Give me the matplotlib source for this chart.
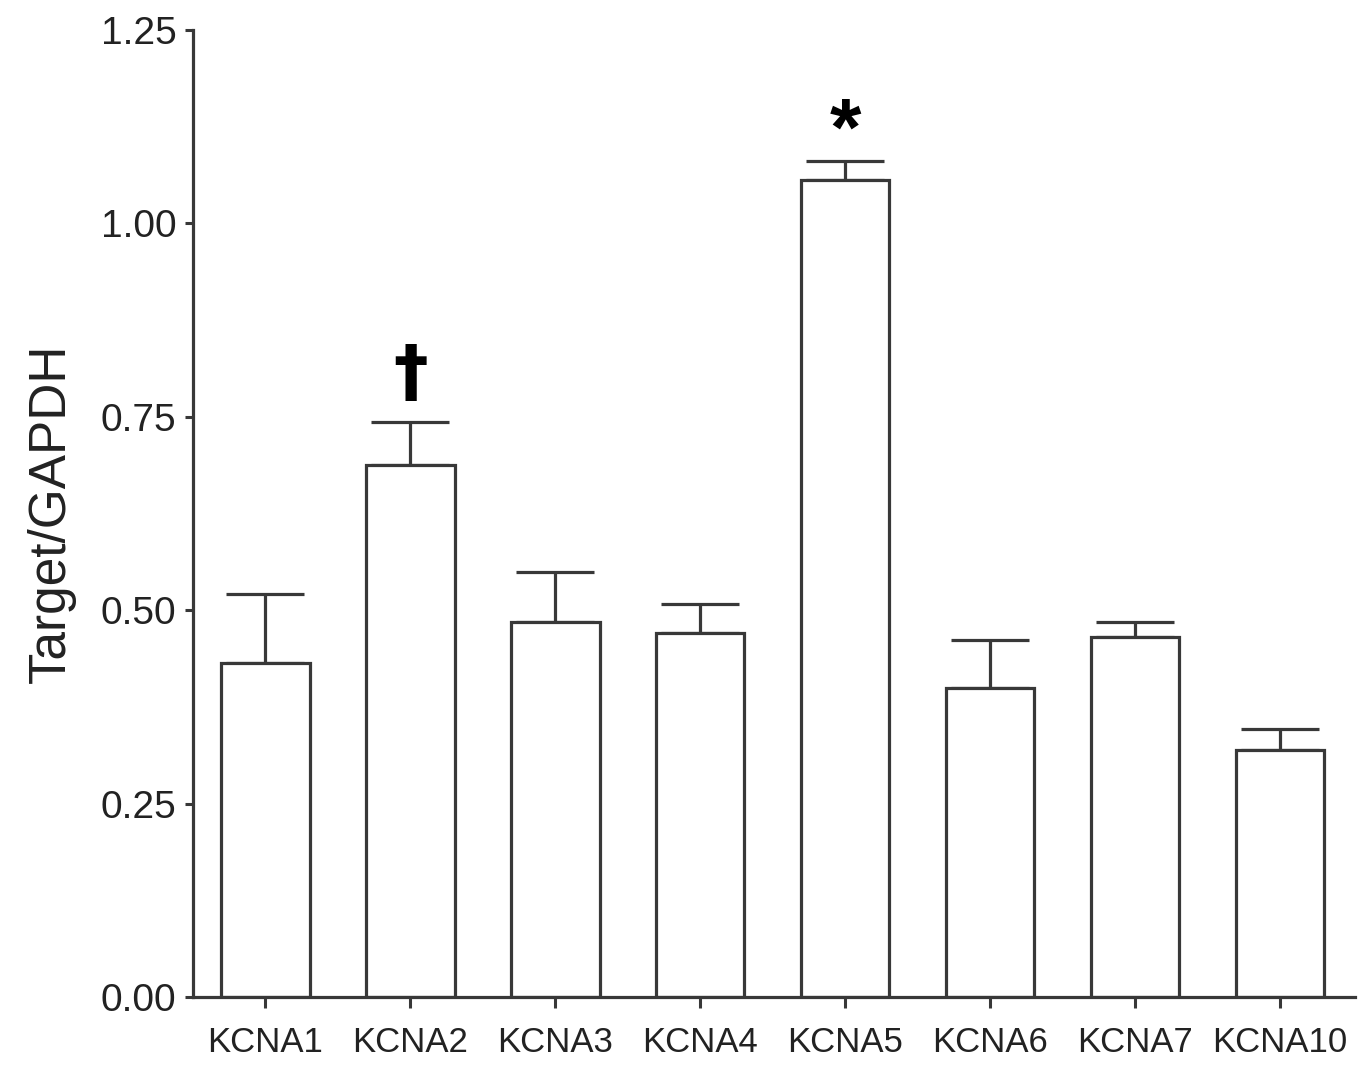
import matplotlib.pyplot as plt
import numpy as np

# значения
genes = ['KCNA1', 'KCNA2', 'KCNA3', 'KCNA4', 'KCNA5', 'KCNA6', 'KCNA7', 'KCNA10']
means = [0.432, 0.687, 0.485, 0.470, 1.056, 0.399, 0.465, 0.319]
sems = [0.089, 0.056, 0.064, 0.038, 0.024, 0.062, 0.020, 0.027]
marks = {'KCNA2': '\u2020', 'KCNA5': '*'}

plt.rcParams['font.family'] = ['Liberation Sans', 'DejaVu Sans']
line_col = '#383838'
text_col = '#222222'

fig = plt.figure(figsize=(13.69, 10.69), dpi=100)
ax = fig.add_axes([0.141, 0.0674, 0.849, 0.9046])

x = np.arange(len(genes))
ax.bar(x, means, width=0.61, color='white', edgecolor=line_col, linewidth=2.3, zorder=2)
lower = np.zeros(len(means))
ax.errorbar(x, means, yerr=[lower, sems], fmt='none', ecolor=line_col,
            elinewidth=2.3, capsize=28, capthick=2.3, zorder=1)

for i, g in enumerate(genes):
    if g in marks:
        top = means[i] + sems[i]
        if marks[g] == '*':
            # звёздочка: у шрифта большой нижний отступ, поэтому смещение отрицательное
            ax.text(i, top - 0.013, marks[g], ha='center', va='bottom', fontsize=58,
                    fontweight='bold', color='black')
        else:
            ax.text(i, top + 0.018, marks[g], ha='center', va='bottom', fontsize=50,
                    fontweight='bold', color='black', family=['DejaVu Sans'])

ax.set_xlim(-0.5, 7.52)
ax.set_ylim(0, 1.25)
ax.set_yticks([0, 0.25, 0.5, 0.75, 1.0, 1.25])
ax.set_yticklabels(['0.00', '0.25', '0.50', '0.75', '1.00', '1.25'])
ax.set_xticks(x)
ax.set_xticklabels(genes)
ax.tick_params(axis='y', labelsize=28, length=6, width=2.2, color=line_col,
               labelcolor=text_col, pad=6)
ax.tick_params(axis='x', labelsize=25, length=8, width=2.2, color=line_col,
               labelcolor=text_col, pad=13)
ax.set_ylabel('Target/GAPDH', fontsize=37, labelpad=18, color=text_col)

for side in ['top', 'right']:
    ax.spines[side].set_visible(False)
for side in ['left', 'bottom']:
    ax.spines[side].set_linewidth(2.3)
    ax.spines[side].set_color(line_col)

fig.savefig('out.png', dpi=100)
